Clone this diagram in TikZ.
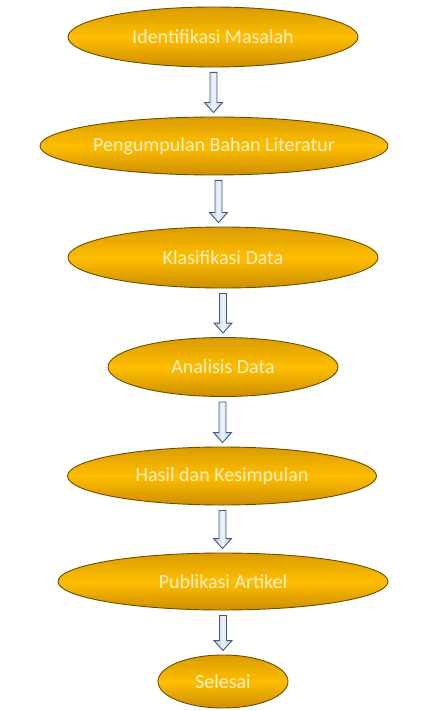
\documentclass[tikz,border=0pt]{standalone}
\usepackage{fontspec}
\setmainfont{Carlito}
\usetikzlibrary{shapes.geometric,calc}

\definecolor{goldline}{HTML}{6B4F00}
\definecolor{goldtop}{HTML}{D99C00}
\definecolor{goldmid}{HTML}{FFBE00}
\definecolor{goldbot}{HTML}{CC8F00}
\definecolor{labeltext}{HTML}{FFF0C8}
\definecolor{arrowline}{HTML}{46597A}
\definecolor{arrowfill}{HTML}{B3C8E3}
\definecolor{arrowlight}{HTML}{EEF3FA}

\begin{document}
\begin{tikzpicture}[x=1pt,y=-1pt,
  stage node/.style={ellipse,draw=goldline,line width=0.9pt,
    top color=goldtop,bottom color=goldbot,middle color=goldmid,
    text=labeltext,font=\fontsize{20}{24}\selectfont,inner sep=0pt,
    minimum width=#1},
  flow arrow/.style={draw=arrowline,line width=0.9pt,
    left color=arrowfill,right color=arrowfill,middle color=arrowlight,
    to path={let \p1=(\tikztostart.south), \p2=(\tikztotarget.north),
      \p3=($(\p1)!0.5!(\p2)$) in
      (\x3-3.5pt,\y1-5pt) -- (\x3+3.5pt,\y1-5pt) -- (\x3+3.5pt,\y2+14pt)
      -- (\x3+9pt,\y2+14pt) -- (\x3,\y2+4pt) -- (\x3-9pt,\y2+14pt)
      -- (\x3-3.5pt,\y2+14pt) -- cycle}}]

  \useasboundingbox (0,0) rectangle (424,711);

  \node[stage node=290pt,minimum height=60pt] (n0) at (213,37) {Identifikasi Masalah};
  \node[stage node=348pt,minimum height=58pt] (n1) at (214,146) {Pengumpulan Bahan Literatur};
  \node[stage node=310pt,minimum height=61pt] (n2) at (223,257.5) {Klasifikasi Data};
  \node[stage node=230pt,minimum height=59pt] (n3) at (223,367) {Analisis Data};
  \node[stage node=309pt,minimum height=58pt] (n4) at (222,476) {Hasil dan Kesimpulan};
  \node[stage node=330pt,minimum height=57pt] (n5) at (223,581.5) {Publikasi Artikel};
  \node[stage node=130pt,minimum height=53pt] (n6) at (223,681.5) {Selesai};

 \path[]
 (n0) edge[flow arrow] (n1)
 (n1) edge[flow arrow] (n2)
 (n2) edge[flow arrow] (n3)
 (n3) edge[flow arrow] (n4)
 (n4) edge[flow arrow] (n5)
 (n5) edge[flow arrow] (n6);

\end{tikzpicture}
\end{document}
